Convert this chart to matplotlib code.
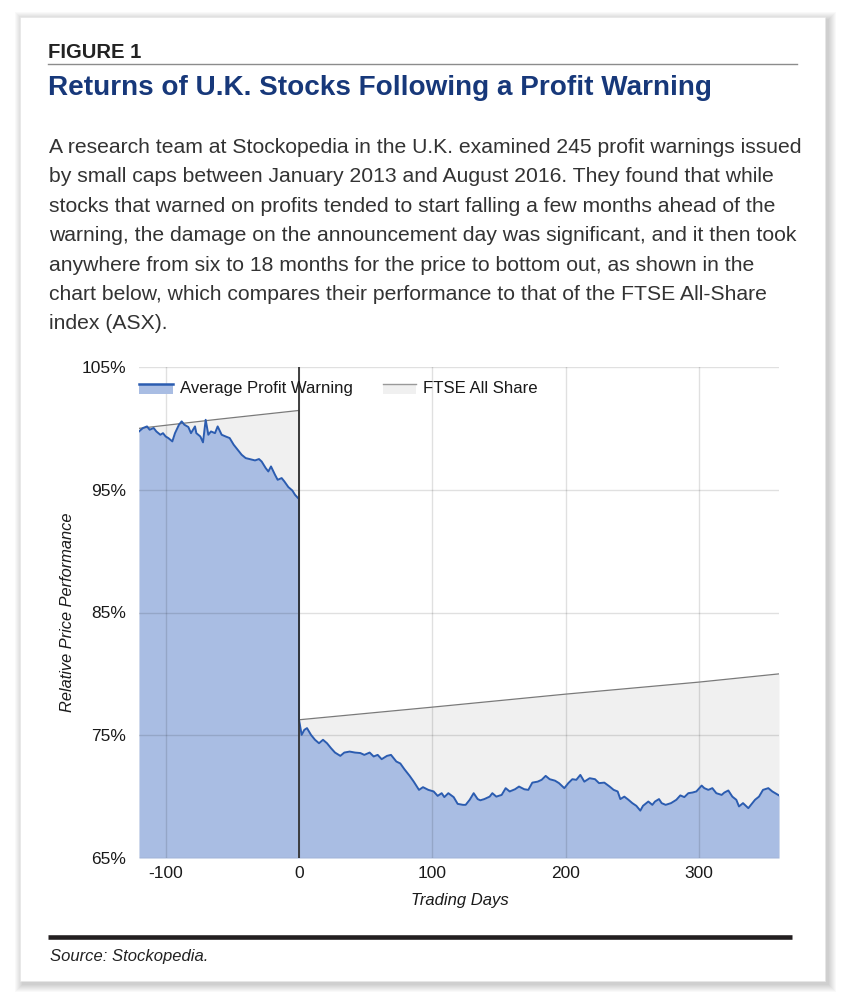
import matplotlib
matplotlib.use('Agg')
import matplotlib.pyplot as plt
from matplotlib.patches import Rectangle, Patch
from matplotlib.lines import Line2D
from matplotlib.legend_handler import HandlerBase

# ---- data ----
pw_pre_days = [-120, -117, -114, -112, -109, -107, -104, -102, -100, -98,
               -95, -93, -90, -88, -86, -83, -81, -78, -77, -74,
               -72, -70, -68, -66, -63, -61, -58, -55, -52, -49,
               -47, -43, -40, -37, -33, -30, -28, -25, -23, -21,
               -18, -16, -13, -11, -8, -5, -3, 0]
pw_pre_vals = [99.75, 100.03, 100.16, 99.89, 100.03, 99.75, 99.48, 99.61, 99.34, 99.21,
               98.94, 99.61, 100.3, 100.57, 100.3, 100.11, 99.61, 100.16, 99.61, 99.34,
               98.86, 100.7, 99.48, 99.75, 99.61, 100.16, 99.48, 99.34, 99.21, 98.67,
               98.4, 97.85, 97.58, 97.5, 97.39, 97.5, 97.3, 96.77, 96.49, 96.9,
               96.22, 95.81, 95.95, 95.68, 95.22, 94.94, 94.59, 94.24]

pw_post_days = [0, 2, 4, 6, 9, 12, 15, 18, 21, 24, 27, 31, 34, 38, 42, 46, 49, 53, 56, 59,
                62, 66, 69, 73, 76, 79, 83, 86, 90, 93, 97, 101, 104, 107, 109, 112, 116, 119, 123,
                125, 128, 131, 134, 136, 139, 143, 145, 148, 152, 155, 158, 162, 165, 169, 172,
                175, 179, 182, 185, 188, 192, 195, 199, 202, 205, 208, 211, 214, 218, 222, 225,
                229, 233, 236, 239, 241, 244, 247,
                250, 253, 256, 258, 262, 265, 267, 270, 272, 275, 279, 283, 286, 289, 292, 295,
                298, 302, 304, 307, 310, 313, 317, 319, 322, 325, 328, 330, 333, 337, 339, 342,
                345, 348, 352, 355, 358, 360]
pw_post_vals = [76.26, 75.03, 75.44, 75.58, 75.03, 74.63, 74.35, 74.63, 74.35, 73.95, 73.59, 73.32,
                73.59, 73.67, 73.59, 73.55, 73.4, 73.59, 73.27, 73.4,
                73.05, 73.32, 73.4, 72.86, 72.7, 72.24, 71.69, 71.23, 70.55, 70.77, 70.55, 70.42,
                70.06, 70.28, 69.96, 70.28, 69.96, 69.41, 69.33,
                69.33, 69.74, 70.28, 69.8, 69.7, 69.8, 70.0, 70.28, 70.0, 70.14, 70.69, 70.42,
                70.6, 70.82, 70.6, 70.55,
                71.14, 71.22, 71.37, 71.69, 71.42, 71.3, 71.1, 70.69, 71.1, 71.42, 71.37, 71.77,
                71.22, 71.5, 71.42, 71.1,
                71.14, 70.82, 70.55, 70.42, 69.8, 70.0, 69.75,
                69.47, 69.25, 68.86, 69.25, 69.6, 69.33, 69.6, 69.8, 69.47, 69.33, 69.47, 69.74,
                70.1, 69.96, 70.28, 70.33,
                70.42, 70.9, 70.69, 70.55, 70.69, 70.28, 70.14, 70.33, 70.5, 70.0, 69.74, 69.2,
                69.47, 69.06, 69.33, 69.74,
                70.0, 70.55, 70.69, 70.42, 70.23, 70.1]

ftse_pre_days = [-120, -60, 0]
ftse_pre_vals = [100.0, 100.75, 101.46]
ftse_post_days = [0, 100, 200, 300, 360]
ftse_post_vals = [76.26, 77.29, 78.35, 79.33, 80.0]

y_ticks = [65, 75, 85, 95, 105]
y_ticklabels = ['65%', '75%', '85%', '95%', '105%']
x_ticks = [-100, 0, 100, 200, 300]
x_ticklabels = ['-100', '0', '100', '200', '300']

series_names = ['Average Profit Warning', 'FTSE All Share']

body_lines = [
    "A research team at Stockopedia in the U.K. examined 245 profit warnings issued",
    "by small caps between January 2013 and August 2016. They found that while",
    "stocks that warned on profits tended to start falling a few months ahead of the",
    "warning, the damage on the announcement day was significant, and it then took",
    "anywhere from six to 18 months for the price to bottom out, as shown in the",
    "chart below, which compares their performance to that of the FTSE All-Share",
    "index (ASX).",
]

W, H = 844, 1000
plt.rcParams['font.family'] = ['Liberation Sans', 'DejaVu Sans']


def fx(px):
    return px / W


def fy(py):
    return 1 - py / H


class AreaHandler(HandlerBase):
    # legend key like the google area chart: filled box with a line on top
    def create_artists(self, legend, orig_handle, xdescent, ydescent, width, height, fontsize, trans):
        top = -ydescent + height * 0.8
        rect = Rectangle((-xdescent, -ydescent - height * 0.1), width, top + ydescent + height * 0.1,
                         facecolor=orig_handle.get_facecolor(), edgecolor='none', transform=trans)
        line = Line2D([-xdescent, -xdescent + width], [top, top],
                      color=orig_handle.get_edgecolor(), lw=orig_handle.get_linewidth(), transform=trans)
        return [rect, line]


fig = plt.figure(figsize=(W / 100, H / 100), dpi=100)
fig.patch.set_facecolor('white')

# card with soft shadow (kept behind the axes)
for i in range(8):
    g = 8 - i
    fig.patches.append(Rectangle((fx(20 - g + 3), fy(981 + g + 3)), fx(805 + 2 * g), (964 + 2 * g) / H,
                                 transform=fig.transFigure, facecolor='#000000', alpha=0.025,
                                 edgecolor='none', zorder=-3))
fig.patches.append(Rectangle((fx(20), fy(981)), fx(805), 964 / H, transform=fig.transFigure,
                             facecolor='white', edgecolor='#e6e6e6', lw=0.5, zorder=-2))

# header texts
fig.text(fx(48), fy(58), 'FIGURE 1', fontsize=14.6, fontweight='bold', color='#222222',
         va='baseline', ha='left')
fig.add_artist(Line2D([fx(48), fx(797)], [fy(63.5), fy(63.5)], color='#8c8c8c', lw=1.0,
                      transform=fig.transFigure))
fig.text(fx(48), fy(95), 'Returns of U.K. Stocks Following a Profit Warning', fontsize=20.1,
         fontweight='bold', color='#17387a', va='baseline', ha='left')
for i, line in enumerate(body_lines):
    fig.text(fx(49), fy(153 + i * 29.4), line, fontsize=15.2, color='#333333',
             va='baseline', ha='left')

# chart
ax = fig.add_axes([fx(139), fy(858), fx(779) - fx(139), (858 - 367) / H])
ax.set_facecolor('white')

ftse_x = ftse_pre_days + ftse_post_days
ftse_y = ftse_pre_vals + ftse_post_vals
pw_x = pw_pre_days + pw_post_days
pw_y = pw_pre_vals + pw_post_vals

ftse_fill = '#f0f0f0'
ftse_line = '#7a7a7a'
pw_fill = '#a9bde3'
pw_line = '#2b5cb0'

ax.fill_between(ftse_x, 65, ftse_y, color=ftse_fill, lw=0, zorder=1)
ax.fill_between(pw_x, 65, pw_y, color=pw_fill, lw=0, zorder=2)
ax.plot(ftse_x, ftse_y, color=ftse_line, lw=0.9, zorder=3)
ax.plot(pw_x, pw_y, color=pw_line, lw=1.4, zorder=3)
ax.axvline(0, color='#333333', lw=1.3, zorder=4)

ax.set_xlim(-120, 360)
ax.set_ylim(65, 105)
ax.set_xticks(x_ticks)
ax.set_xticklabels(x_ticklabels)
ax.set_yticks(y_ticks)
ax.set_yticklabels(y_ticklabels)
ax.tick_params(length=0, labelsize=12.5, colors='#1a1a1a')
ax.tick_params(axis='x', pad=6)
ax.tick_params(axis='y', pad=9)
ax.set_axisbelow(False)
ax.grid(True, color='#000000', alpha=0.12, lw=1.0)
for s in ax.spines.values():
    s.set_visible(False)

handles = [Patch(facecolor=pw_fill, edgecolor=pw_line, linewidth=1.8),
           Patch(facecolor=ftse_fill, edgecolor='#999999', linewidth=1.0)]
leg = ax.legend(handles, series_names, handler_map={Patch: AreaHandler()}, loc='upper left',
                bbox_to_anchor=(0.0, 0.971), ncol=2, frameon=False, fontsize=12.1,
                handlelength=2.0, handletextpad=0.42, columnspacing=1.8, borderaxespad=0,
                borderpad=0)
for t in leg.get_texts():
    t.set_color('#1a1a1a')

fig.text(fx(67), fy(612), 'Relative Price Performance', rotation=90, fontsize=11.8,
         style='italic', color='#1a1a1a', ha='center', va='center')
fig.text(fx(460), fy(900), 'Trading Days', fontsize=12, style='italic', color='#1a1a1a',
         ha='center', va='center')

# footer
fig.add_artist(Line2D([fx(48), fx(792)], [fy(937), fy(937)], color='#231f20', lw=3.3,
                      transform=fig.transFigure, solid_capstyle='butt'))
fig.text(fx(50), fy(961), 'Source: Stockopedia.', fontsize=12, style='italic', color='#222222',
         va='baseline', ha='left')

fig.savefig('out.png', dpi=100)
